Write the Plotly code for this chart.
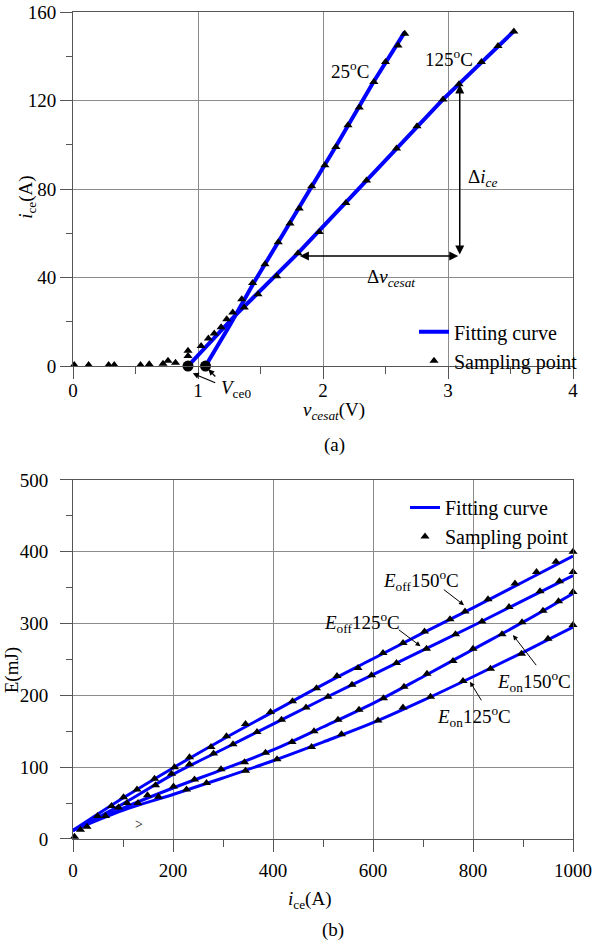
import plotly.graph_objects as go

# ---------------- (a) output characteristic ----------------
v_25 = [0.01, 0.125, 0.285, 0.33, 0.54, 0.61, 0.72, 0.76, 0.82, 0.92, 0.92, 1.025, 1.083, 1.13, 1.185,
        1.23, 1.278, 1.35, 1.437, 1.536, 1.642, 1.736, 1.81, 1.909, 2.015, 2.103, 2.20, 2.29, 2.407,
        2.50, 2.60, 2.654]
i_25 = [0.5, 0.5, 0.5, 0.5, 0.5, 0.8, 1.0, 2.4, 1.5, 4.5, 6.9, 9.0, 12.5, 14.7, 17.5,
        21.2, 24.2, 30.2, 37.5, 46.0, 56.0, 64.4, 71.2, 81.3, 90.7, 99.0, 108.8, 116.8, 128.4,
        137.4, 144.9, 150.2]
v_125 = [1.37, 1.48, 1.63, 1.80, 1.97, 2.183, 2.348, 2.588, 2.752, 2.96, 3.088, 3.267, 3.40, 3.527]
i_125 = [26.5, 32.4, 40.6, 51.0, 60.6, 73.7, 83.8, 98.3, 108.4, 120.5, 127.3, 137.4, 144.6, 151.2]

fit25_v = [1.06, 1.25, 1.45, 1.81, 2.10, 2.40, 2.655]
fit25_i = [0, 18, 38, 71.5, 99, 128, 151]
fit125_v = [0.92, 1.30, 1.80, 2.35, 2.96, 3.53]
fit125_i = [0, 23, 51, 84, 120.5, 151.5]

vce0_v = [0.92, 1.06]
vce0_i = [0, 0]

# ---------------- (b) switching energy ----------------
fit_ice = [0, 100, 200, 300, 400, 500, 600, 700, 800, 900, 1000]
eoff150_fit = [12, 57, 99, 139, 177, 215, 251, 287, 322, 358, 394]
eoff125_fit = [12, 49, 90, 125, 160, 195, 229, 263, 297, 332, 367]
eon150_fit = [12, 43, 71, 97, 124, 156, 189, 226, 264, 302, 342]
eon125_fit = [12, 40, 62, 85, 109, 135, 162, 193, 226, 260, 295]

eoff150_x = [28, 49, 77, 101, 128, 163, 203, 233, 276, 307, 345, 395, 439, 487, 528, 570, 620, 660,
             703, 754, 784, 830, 884, 927, 966, 1000]
eoff150_y = [17, 32, 46, 58, 69, 84, 100, 114, 128, 143, 160, 177, 192, 210, 227, 238, 259, 273,
             289, 306, 317, 334, 356, 372, 386, 400]
eoff125_x = [15, 108, 165, 197, 233, 281, 320, 368, 417, 466, 510, 558, 597, 647, 707, 765, 818,
             872, 934, 973, 1000]
eoff125_y = [13, 50, 75, 91, 104, 119, 132, 149, 166, 183, 198, 215, 228, 245, 265, 285, 303,
             323, 345, 359, 372]
eon150_x = [65, 91, 149, 201, 243, 296, 343, 385, 438, 482, 530, 572, 621, 662, 708, 760, 800,
            858, 898, 940, 971, 1000]
eon150_y = [32, 44, 61, 73, 83, 97, 107, 120, 135, 150, 166, 180, 196, 212, 230, 248, 265,
            285, 302, 318, 331, 344]
eon125_x = [3, 130, 171, 227, 267, 345, 408, 477, 537, 610, 660, 715, 780, 835, 897, 950, 1000]
eon125_y = [3, 50, 59, 69, 78, 95, 111, 128, 146, 165, 183, 198, 220, 237, 258, 279, 298]

FONT = "Liberation Serif"
BLUE = "#0000FF"
TRI = dict(symbol="triangle-up", size=8, color="black")

fig = go.Figure()

# (a) traces
fig.add_trace(go.Scatter(x=fit25_v, y=fit25_i, mode="lines", line=dict(color=BLUE, width=4),
                         name="Fitting curve", legend="legend", showlegend=True, xaxis="x", yaxis="y"))
fig.add_trace(go.Scatter(x=fit125_v, y=fit125_i, mode="lines", line=dict(color=BLUE, width=4),
                         showlegend=False, xaxis="x", yaxis="y"))
fig.add_trace(go.Scatter(x=v_25, y=i_25, mode="markers", marker=TRI, name="Sampling point",
                         legend="legend", showlegend=True, cliponaxis=False, xaxis="x", yaxis="y"))
fig.add_trace(go.Scatter(x=v_125, y=i_125, mode="markers", marker=TRI, showlegend=False,
                         cliponaxis=False, xaxis="x", yaxis="y"))
fig.add_trace(go.Scatter(x=vce0_v, y=vce0_i, mode="markers",
                         marker=dict(symbol="circle", size=11, color="black"),
                         showlegend=False, cliponaxis=False, xaxis="x", yaxis="y"))

# (b) traces
first = True
for fy in [eoff150_fit, eoff125_fit, eon150_fit, eon125_fit]:
    fig.add_trace(go.Scatter(x=fit_ice, y=fy, mode="lines", line=dict(color=BLUE, width=3, shape="spline"),
                             name="Fitting curve", legend="legend2", showlegend=first,
                             xaxis="x2", yaxis="y2"))
    first = False
first = True
for px, py in [(eoff150_x, eoff150_y), (eoff125_x, eoff125_y), (eon150_x, eon150_y), (eon125_x, eon125_y)]:
    fig.add_trace(go.Scatter(x=px, y=py, mode="markers", marker=TRI, name="Sampling point",
                             legend="legend2", showlegend=first, cliponaxis=False,
                             xaxis="x2", yaxis="y2"))
    first = False

axis_common = dict(
    showgrid=True, gridcolor="#8c8c8c", gridwidth=1,
    showline=True, linecolor="#555555", linewidth=1, mirror=True,
    ticks="outside", ticklen=12, tickcolor="#555555", tickwidth=1,
    tickfont=dict(family=FONT, size=19, color="black"),
    zeroline=False, automargin=False,
)

fig.update_layout(
    width=610, height=946,
    margin=dict(l=73, r=37, t=12, b=107),
    paper_bgcolor="white", plot_bgcolor="white",
    font=dict(family=FONT, size=19, color="black"),
    xaxis=dict(axis_common, domain=[0, 1], anchor="y", range=[0, 4], dtick=1,
               ticklabelstandoff=-5,
               minor=dict(dtick=0.5, ticklen=7, tickcolor="#555555", showgrid=False)),
    yaxis=dict(axis_common, domain=[0.5719, 1], anchor="x", range=[0, 160], dtick=40,
               ticklabelstandoff=0, ticklabeloverflow="allow",
               minor=dict(dtick=20, ticklen=6, tickcolor="#555555", showgrid=False)),
    xaxis2=dict(axis_common, domain=[0, 1], anchor="y2", range=[0, 1000], dtick=200,
                ticklabelstandoff=2,
                minor=dict(dtick=100, ticklen=7, tickcolor="#555555", showgrid=False)),
    yaxis2=dict(axis_common, domain=[0, 0.4341], anchor="x2", range=[0, 500], dtick=100,
                ticklabelstandoff=8,
                minor=dict(dtick=50, ticklen=6, tickcolor="#555555", showgrid=False)),
    legend=dict(x=0.682, y=0.637, xanchor="left", yanchor="top", bgcolor="rgba(0,0,0,0)",
                font=dict(family=FONT, size=20), tracegroupgap=0),
    legend2=dict(x=0.664, y=0.4244, xanchor="left", yanchor="top", bgcolor="rgba(0,0,0,0)",
                 font=dict(family=FONT, size=20), tracegroupgap=0),
)

ann = []
def txt(text, x, y, xref, yref, **kw):
    d = dict(text=text, x=x, y=y, xref=xref, yref=yref, showarrow=False,
             xanchor="center", yanchor="middle",
             font=dict(family=FONT, size=19, color="black"))
    d.update(kw)
    ann.append(d)

def arrow(x, y, ax, ay, xr, yr, both=False, head=2, size=1.2, width=1.5):
    d = dict(text="", x=x, y=y, ax=ax, ay=ay, xref=xr, yref=yr, axref=xr, ayref=yr,
             showarrow=True, arrowhead=head, arrowsize=size, arrowwidth=width, arrowcolor="black")
    if both:
        d.update(arrowside="end+start", startarrowhead=head, startarrowsize=size)
    ann.append(d)

# titles (a)
txt("<i>i</i><sub>ce</sub>(A)", -0.092, 0.475, "x domain", "y domain", textangle=-90)
txt("<i>v</i><sub><i>cesat</i></sub>(V)", 0.522, -0.128, "x domain", "y domain")
txt("(a)", 0.522, -0.222, "x domain", "y domain")
# labels (a)
txt("25<sup>o</sup>C", 2.215, 134, "x", "y")
txt("125<sup>o</sup>C", 3.006, 139, "x", "y")
txt("Δ<i>i</i><sub><i>ce</i></sub>", 3.147, 85, "x", "y", xanchor="left")
txt("Δ<i>v</i><sub><i>cesat</i></sub>", 2.335, 40, "x", "y", xanchor="left")
arrow(3.094, 127.2, 3.094, 49.7, "x", "y", both=True)
arrow(1.815, 49.7, 3.094, 49.7, "x", "y", both=True)
# V_ce0 label and arrows sit below the axis: placed in domain coordinates
txt("<i>V</i><sub>ce0</sub>", 0.292, -0.066, "x domain", "y domain", xanchor="left")
arrow(0.2395, -0.0206, 0.2875, -0.0488, "x domain", "y domain", head=2, size=1.0, width=1.2)
arrow(0.2708, -0.0094, 0.2875, -0.0338, "x domain", "y domain", head=2, size=1.0, width=1.2)

# titles (b)
txt("E(mJ)", -0.122, 0.47, "x2 domain", "y2 domain", textangle=-90)
txt("<i>i</i><sub>ce</sub>(A)", 0.4734, -0.17, "x2 domain", "y2 domain")
txt("(b)", 0.5206, -0.2545, "x2 domain", "y2 domain")
# labels (b)
txt("<i>E</i><sub>off</sub>150<sup>o</sup>C", 695, 360, "x2", "y2")
txt("<i>E</i><sub>off</sub>125<sup>o</sup>C", 578, 301, "x2", "y2")
txt("<i>E</i><sub>on</sub>150<sup>o</sup>C", 922, 219, "x2", "y2")
txt("<i>E</i><sub>on</sub>125<sup>o</sup>C", 802, 170, "x2", "y2")
txt(">", 131, 20, "x2", "y2", font=dict(family=FONT, size=14, color="black"))
arrow(782, 325.7, 738.6, 349, "x2", "y2", head=2, size=1.0, width=1)
arrow(695, 268.6, 648.5, 293, "x2", "y2", head=2, size=1.0, width=1)
arrow(880, 284, 928.7, 240, "x2", "y2", head=2, size=1.0, width=1)
arrow(794, 219, 818.6, 191, "x2", "y2", head=2, size=1.0, width=1)

fig.update_layout(annotations=ann)
fig.write_html("out.html", config={"displayModeBar": False},
               post_script="document.body.style.margin='0px';")
